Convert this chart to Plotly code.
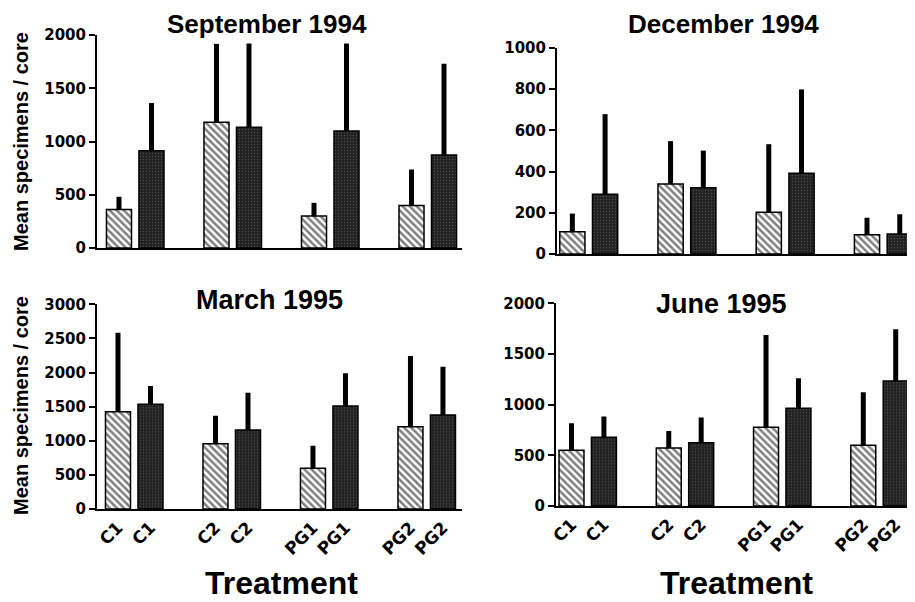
import plotly.graph_objects as go

# ---------------- data ----------------
treatments = ["C1", "C2", "PG1", "PG2"]
tick_labels = ["C1", "C1", "C2", "C2", "PG1", "PG1", "PG2", "PG2"]
panel_titles = ["September 1994", "December 1994", "March 1995", "June 1995"]

sep94_hatched = [362, 1180, 300, 400]
sep94_hatched_err = [119, 737, 124, 337]
sep94_dark = [912, 1133, 1099, 874]
sep94_dark_err = [449, 787, 821, 856]

dec94_hatched = [108, 340, 203, 94]
dec94_hatched_err = [88, 208, 330, 82]
dec94_dark = [290, 322, 392, 97]
dec94_dark_err = [389, 180, 407, 96]

mar95_hatched = [1427, 958, 596, 1207]
mar95_hatched_err = [1157, 410, 332, 1035]
mar95_dark = [1534, 1158, 1510, 1378]
mar95_dark_err = [269, 547, 478, 708]

jun95_hatched = [549, 572, 776, 599]
jun95_hatched_err = [267, 168, 912, 523]
jun95_dark = [678, 625, 964, 1234]
jun95_dark_err = [204, 247, 296, 509]

y_axis_title = "Mean specimens / core"
x_axis_title = "Treatment"

# ---------------- layout constants ----------------
# The page body has an 8px margin, so the figure is drawn 8px in from the
# window's top-left corner; size it to fill the rest of the 915x602 window.
BODY = 8
W, H = 915 - BODY, 602 - BODY
FONT = "Arial, Liberation Sans, Helvetica, sans-serif"
TICKFONT = "DejaVu Sans, Arial, sans-serif"


def fx(px):
    return (px - BODY) / W


def fy(py):
    return 1 - (py - BODY) / H


panels = [
    dict(series=(sep94_hatched, sep94_hatched_err, sep94_dark, sep94_dark_err),
         px_x=(97, 462), px_y=(35, 248), yrange=2000, dtick=500,
         xrange=(-0.392, 3.351), bottom=False),
    dict(series=(dec94_hatched, dec94_hatched_err, dec94_dark, dec94_dark_err),
         px_x=(557, 915), px_y=(48, 254), yrange=1000, dtick=200,
         xrange=(-0.323, 3.322), bottom=False),
    dict(series=(mar95_hatched, mar95_hatched_err, mar95_dark, mar95_dark_err),
         px_x=(97, 462), px_y=(304.3, 509), yrange=3000, dtick=500,
         xrange=(-0.382, 3.362), bottom=True),
    dict(series=(jun95_hatched, jun95_hatched_err, jun95_dark, jun95_dark_err),
         px_x=(556, 915), px_y=(303.3, 506), yrange=2000, dtick=500,
         xrange=(-0.326, 3.365), bottom=True),
]

OFFSET = 1 / 6  # bar centre offset from group centre (group units)
group_idx = list(range(len(treatments)))
tickvals = []
for g in group_idx:
    tickvals += [g - OFFSET, g + OFFSET]

hatch_marker = dict(
    color="white",
    line=dict(color="black", width=1.5),
    pattern=dict(shape="\\", fgcolor="black", bgcolor="white", size=5, solidity=0.5),
)
dark_marker = dict(
    color="#2a2a2a",
    line=dict(color="black", width=1.5),
    pattern=dict(shape=".", fgcolor="#7a7a7a", bgcolor="#222222", size=3, solidity=0.15),
)

fig = go.Figure()
layout = dict(
    width=W, height=H,
    margin=dict(l=0, r=0, t=0, b=0, autoexpand=False),
    paper_bgcolor="white", plot_bgcolor="white",
    showlegend=False,
    barmode="group", bargap=1 / 3, bargroupgap=0.23,
    font=dict(family=FONT, color="black"),
)

for i, p in enumerate(panels):
    n = i + 1
    xa = "x" if n == 1 else f"x{n}"
    ya = "y" if n == 1 else f"y{n}"
    hm, he, dm, de = p["series"]
    for vals, errs, mk in ((hm, he, hatch_marker), (dm, de, dark_marker)):
        fig.add_trace(go.Bar(
            x=group_idx, y=vals, xaxis=xa, yaxis=ya, marker=mk,
            error_y=dict(type="data", array=errs, arrayminus=[0] * len(errs),
                         symmetric=False, thickness=5, width=0, color="black"),
        ))
    x0, x1 = p["px_x"]
    ytop, ybot = p["px_y"]
    layout[f"xaxis{'' if n == 1 else n}"] = dict(
        domain=[fx(x0), min(1.0, fx(x1))], anchor=ya, range=list(p["xrange"]),
        automargin=False,
        showline=True, linecolor="black", linewidth=2,
        showgrid=False, zeroline=False, ticks="",
        tickmode="array", tickvals=tickvals, ticktext=tick_labels,
        showticklabels=p["bottom"], tickangle=-45,
        tickfont=dict(family=TICKFONT, size=17, weight="bold", color="black"),
    )
    layout[f"yaxis{'' if n == 1 else n}"] = dict(
        domain=[fy(ybot), fy(ytop)], anchor=xa, range=[0, p["yrange"]],
        automargin=False,
        dtick=p["dtick"], tick0=0,
        showline=True, linecolor="black", linewidth=2,
        showgrid=False, zeroline=False,
        ticks="outside", ticklen=6, tickwidth=2, tickcolor="black",
        tickfont=dict(family=TICKFONT, size=15, weight="bold", color="black"),
    )

# (x centre, y, anchor) in window pixels
title_pos = [(267, 8, "top"), (723, 8, "top"), (269, 300, "middle"), (721, 304, "middle")]
annotations = []
for t, (px, py, anc) in zip(panel_titles, title_pos):
    annotations.append(dict(
        text=t, x=fx(px), y=fy(py), xref="paper", yref="paper",
        xanchor="center", yanchor=anc, showarrow=False, borderpad=0,
        font=dict(family=FONT, size=26 if anc == "top" else 27,
                  weight="bold", color="black"),
    ))
for py in (142, 406):
    annotations.append(dict(
        text=y_axis_title, x=fx(21), y=fy(py), xref="paper", yref="paper",
        xanchor="center", yanchor="middle", showarrow=False, textangle=-90,
        font=dict(family=FONT, size=20, weight="bold", color="black"),
    ))
for px in (281, 736):
    annotations.append(dict(
        text=x_axis_title, x=fx(px), y=fy(583), xref="paper", yref="paper",
        xanchor="center", yanchor="middle", showarrow=False,
        font=dict(family=FONT, size=32, weight="bold", color="black"),
    ))
layout["annotations"] = annotations

fig.update_layout(**layout)
fig.write_html("out.html")
